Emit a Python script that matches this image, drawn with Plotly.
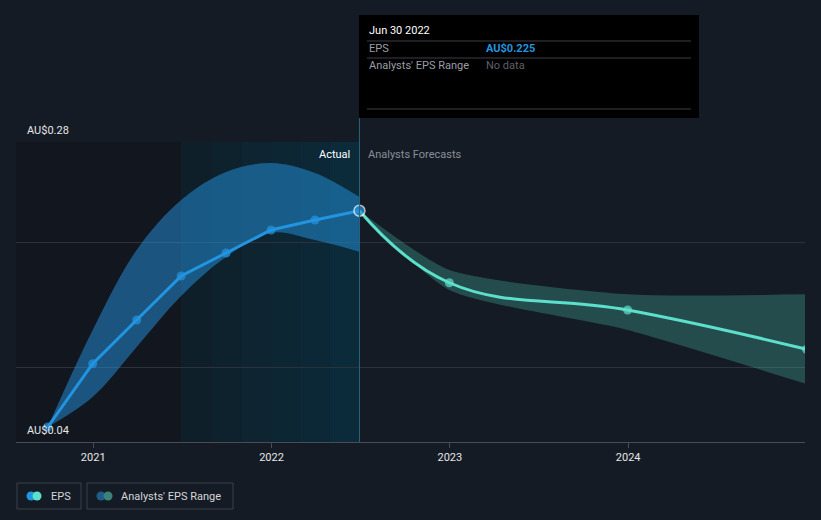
import plotly.graph_objects as go

# ---- data ----
actual_dates = ["2020-09-30", "2020-12-31", "2021-03-31", "2021-06-30",
                "2021-09-30", "2021-12-31", "2022-03-31", "2022-06-30"]
actual_eps = [0.052, 0.1026, 0.1376, 0.1728, 0.1912, 0.2096, 0.2176, 0.225]
actual_upper = [0.052, 0.1296, 0.1936, 0.2336, 0.256, 0.2632, 0.2552, 0.236]
actual_lower = [0.052, 0.076, 0.116, 0.1568, 0.188, 0.2074, 0.2016, 0.1922]

fc_dates = ["2022-06-30", "2022-12-31", "2023-12-31", "2024-12-31"]
fc_eps = [0.225, 0.1674, 0.1456, 0.1142]
fc_upper = [0.225, 0.1776, 0.1582, 0.1582]
fc_lower = [0.225, 0.1616, 0.1296, 0.0864]

x_range = ["2020-07-27", "2024-12-28"]
y_range = [0.04, 0.28]
grid_vals = [0.1, 0.2, 0.28]
year_ticks = ["2021-01-01", "2022-01-01", "2023-01-01", "2024-01-01"]
year_labels = ["2021", "2022", "2023", "2024"]

# background band steps for the past-year highlight (style only)
highlight_edges = ["2021-06-30", "2021-08-31", "2021-10-31", "2021-12-31",
                   "2022-02-28", "2022-04-30", "2022-06-30"]
highlight_colors = ["#0f1f2a", "#0e222e", "#0e2431", "#0d2634", "#0c2837", "#0b2a3a"]

BG = "#151b25"
BLUE = "#2394df"
TEAL = "#5ce0cb"
FONT = "Roboto"

fig = go.Figure()

# actual range band
fig.add_trace(go.Scatter(x=actual_dates, y=actual_upper, mode="lines",
                         line=dict(width=0, shape="spline", smoothing=1.0),
                         hoverinfo="skip", showlegend=False))
fig.add_trace(go.Scatter(x=actual_dates, y=actual_lower, mode="lines",
                         line=dict(width=0, shape="spline", smoothing=1.0),
                         fill="tonexty", fillcolor="rgba(35,148,223,0.5)",
                         hoverinfo="skip", showlegend=False))
# forecast range band
fig.add_trace(go.Scatter(x=fc_dates, y=fc_upper, mode="lines",
                         line=dict(width=0, shape="spline", smoothing=0.6),
                         hoverinfo="skip", showlegend=False))
fig.add_trace(go.Scatter(x=fc_dates, y=fc_lower, mode="lines",
                         line=dict(width=0, shape="spline", smoothing=0.6),
                         fill="tonexty", fillcolor="rgba(88,225,201,0.25)",
                         hoverinfo="skip", showlegend=False))
# forecast line
fig.add_trace(go.Scatter(x=fc_dates, y=fc_eps, mode="lines+markers",
                         line=dict(color=TEAL, width=3, shape="spline", smoothing=1.2),
                         marker=dict(size=[0, 9, 9, 9], color=TEAL, line=dict(width=0)),
                         hoverinfo="skip", showlegend=False))
# actual line
fig.add_trace(go.Scatter(x=actual_dates, y=actual_eps, mode="lines+markers",
                         line=dict(color=BLUE, width=3),
                         marker=dict(size=[9] * 7 + [11], color=BLUE,
                                     line=dict(width=[0] * 7 + [1.5], color="white")),
                         hoverinfo="skip", showlegend=False))

def px_x(px):
    return (px - 16) / 789

def px_y(py):
    return (442 - py) / 300

shapes = [
    # darker older region
    dict(type="rect", xref="x", yref="paper", x0=x_range[0], x1=highlight_edges[0],
         y0=0, y1=1, fillcolor="#12161e", line_width=0, layer="below"),
]
for i, col in enumerate(highlight_colors):
    shapes.append(dict(type="rect", xref="x", yref="paper", x0=highlight_edges[i],
                       x1=highlight_edges[i + 1], y0=0, y1=1, fillcolor=col,
                       line_width=0, layer="below"))
shapes += [
    # vertical line at today
    dict(type="line", xref="x", yref="paper", x0="2022-06-30", x1="2022-06-30",
         y0=0, y1=1.08, line=dict(color="#2b6479", width=1)),
    # tooltip box
    dict(type="rect", xref="paper", yref="paper", x0=px_x(359), x1=px_x(699),
         y0=px_y(118), y1=px_y(15), fillcolor="#000000", line_width=0),
]
for ly in (41, 58, 109):
    shapes.append(dict(type="line", xref="paper", yref="paper", x0=px_x(367), x1=px_x(691),
                       y0=px_y(ly), y1=px_y(ly), line=dict(color="#3a3f47", width=1)))
# legend boxes
for x0, x1 in ((17, 81), (87, 233)):
    shapes.append(dict(type="rect", xref="paper", yref="paper", x0=px_x(x0), x1=px_x(x1),
                       y0=px_y(509), y1=px_y(483), line=dict(color="#3b414b", width=1),
                       fillcolor="rgba(0,0,0,0)"))
for cx, col in ((31, BLUE), (37, TEAL), (101, "#1e5d88"), (108, "#3b827c")):
    shapes.append(dict(type="circle", xref="paper", yref="paper", xsizemode="pixel",
                       ysizemode="pixel", xanchor=px_x(cx), yanchor=px_y(496),
                       x0=-4.5, x1=4.5, y0=-4.5, y1=4.5, fillcolor=col, line_width=0))

annotations = [
    dict(text="AU$0.28", xref="paper", yref="paper", x=px_x(25), y=px_y(130),
         xanchor="left", yanchor="middle", showarrow=False,
         font=dict(color="#e6e6e6", size=11, family=FONT)),
    dict(text="AU$0.04", xref="paper", yref="paper", x=px_x(25), y=px_y(430),
         xanchor="left", yanchor="middle", showarrow=False,
         font=dict(color="#e6e6e6", size=11, family=FONT)),
    dict(text="Actual", xref="x", yref="paper", x="2022-06-30", y=px_y(154),
         xanchor="right", yanchor="middle", xshift=-7, showarrow=False,
         font=dict(color="#ffffff", size=11, family=FONT)),
    dict(text="Analysts Forecasts", xref="x", yref="paper", x="2022-06-30", y=px_y(154),
         xanchor="left", yanchor="middle", xshift=7, showarrow=False,
         font=dict(color="#8a8f96", size=11, family=FONT)),
    dict(text="Jun 30 2022", xref="paper", yref="paper", x=px_x(367), y=px_y(31),
         xanchor="left", yanchor="middle", showarrow=False,
         font=dict(color="#ffffff", size=11, family=FONT)),
    dict(text="EPS", xref="paper", yref="paper", x=px_x(367), y=px_y(48),
         xanchor="left", yanchor="middle", showarrow=False,
         font=dict(color="#9a9ea4", size=11, family=FONT)),
    dict(text="<b>AU$0.225</b>", xref="paper", yref="paper", x=px_x(484), y=px_y(48),
         xanchor="left", yanchor="middle", showarrow=False,
         font=dict(color=BLUE, size=11, family=FONT)),
    dict(text="Analysts' EPS Range", xref="paper", yref="paper", x=px_x(367), y=px_y(66),
         xanchor="left", yanchor="middle", showarrow=False,
         font=dict(color="#9a9ea4", size=11, family=FONT)),
    dict(text="No data", xref="paper", yref="paper", x=px_x(484), y=px_y(66),
         xanchor="left", yanchor="middle", showarrow=False,
         font=dict(color="#5d6167", size=11, family=FONT)),
    dict(text="EPS", xref="paper", yref="paper", x=px_x(49), y=px_y(496),
         xanchor="left", yanchor="middle", showarrow=False,
         font=dict(color="#d4d6d9", size=11, family=FONT)),
    dict(text="Analysts' EPS Range", xref="paper", yref="paper", x=px_x(119), y=px_y(496),
         xanchor="left", yanchor="middle", showarrow=False,
         font=dict(color="#d4d6d9", size=11, family=FONT)),
]

fig.update_layout(
    width=821, height=520,
    margin=dict(l=16, r=16, t=142, b=78),
    paper_bgcolor=BG, plot_bgcolor=BG,
    showlegend=False,
    shapes=shapes, annotations=annotations,
    font=dict(family=FONT, color="#e6e6e6", size=11),
    xaxis=dict(type="date", range=x_range, tickvals=year_ticks, ticktext=year_labels,
               showgrid=False, zeroline=False, showline=True, linecolor="#474c55",
               linewidth=1, ticks="outside", ticklen=5, tickcolor="#474c55",
               tickfont=dict(color="#e6e6e6", size=11, family=FONT), fixedrange=True),
    yaxis=dict(range=y_range, tickvals=grid_vals, showticklabels=False,
               showgrid=True, gridcolor="#2c323c", gridwidth=1, zeroline=False,
               showline=False, fixedrange=True),
    hovermode=False,
)

fig.write_html("out.html")
